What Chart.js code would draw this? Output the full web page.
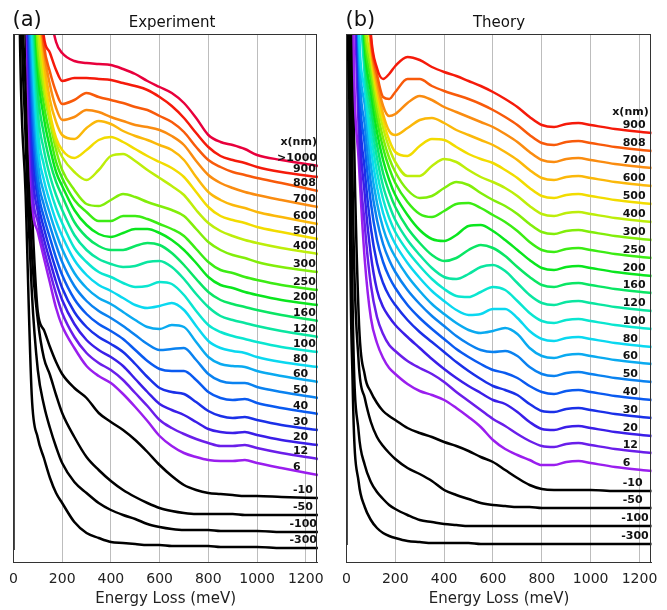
<!DOCTYPE html>
<html>
<head>
<meta charset="utf-8">
<script src="https://cdn.jsdelivr.net/npm/chart.js@4.4.1/dist/chart.umd.min.js"></script>
<style>
  body { margin: 0; background: #fff; }
  #wrap { position: relative; width: 667px; height: 610px; }
  canvas { position: absolute; top: 0; }
</style>
</head>
<body>
<div id="wrap">
  <canvas id="expChart" width="333" height="610" style="left:0"></canvas>
  <canvas id="thyChart" width="334" height="610" style="left:333px"></canvas>
</div>
<script>
// energy loss grid (meV), shared by every spectrum
const energy = [0, 2, 10, 25, 50, 75, 100, 125, 150, 175, 200, 250, 300, 350, 400, 450, 500, 550, 600, 650, 700, 750, 800, 850, 900, 950, 1000, 1100, 1250];
const xTicks = [0, 200, 400, 600, 800, 1000, 1200];

// (a) experiment, stacked intensity (arb. units)
const expGT1000 = [1500,1500,1400,1200,900,800,700,620,552,520,509,501,499,498,497,493,488,481,475,469,459,444,427,420,417,413,407,402,396];
const exp900 = [1500,1500,1400,1200,880,740,600,525,509,492,481,484,484,483,482,479,476,472,465,456,444,429,415,406,402,399,395,390,385];
const exp808 = [1500,1500,1400,1200,860,720,590,517,490,470,458,462,469,465,462,459,455,452,446,440,430,415,402,395,390,387,384,379,371];
const exp700 = [1500,1500,1400,1200,850,700,580,512,477,454,442,445,452,450,445,441,437,435,432,426,417,401,387,379,374,370,367,362,355];
const exp600 = [1500,1500,1400,1200,840,690,570,502,462,440,427,423,434,441,438,431,426,422,417,412,402,385,370,362,357,354,350,345,338];
const exp500 = [1500,1500,1400,1200,830,680,555,490,449,424,412,404,412,422,425,420,413,406,400,394,385,370,355,346,342,339,335,330,323];
const exp400 = [1500,1500,1400,1200,820,660,535,477,442,419,405,390,382,392,406,408,401,392,384,376,367,352,339,331,326,322,319,314,308];
const exp300 = [1500,1500,1400,1200,810,650,517,470,440,412,392,372,358,356,362,368,365,360,356,352,346,333,320,312,307,304,300,295,290];
const exp250 = [1500,1500,1400,1200,800,640,507,457,427,400,384,362,350,341,341,346,346,343,338,333,326,313,300,292,289,285,282,277,272];
const exp200 = [1500,1500,1400,1200,790,620,492,444,414,390,376,352,337,328,325,329,333,333,329,322,312,299,285,277,274,270,267,262,257];
const exp160 = [1500,1500,1400,1200,780,600,472,428,400,380,366,340,325,316,312,312,316,319,317,309,297,283,270,262,258,255,252,247,241];
const exp120 = [1500,1500,1400,1200,760,580,452,412,386,367,352,327,312,303,298,295,296,300,301,295,283,268,255,246,242,239,236,231,225];
const exp100 = [1500,1500,1400,1200,740,560,434,397,373,354,339,314,300,290,285,279,275,276,280,278,267,251,237,230,226,223,220,215,210];
const exp80 = [1500,1500,1400,1200,720,532,417,382,360,341,326,302,287,277,271,264,257,254,256,259,252,236,221,214,211,209,205,200,195];
const exp60 = [1500,1500,1400,1200,710,507,402,369,348,329,313,289,274,264,258,250,242,235,233,237,235,220,205,198,196,195,191,186,180];
const exp50 = [1500,1500,1400,1200,700,482,387,357,336,317,300,276,261,251,244,236,227,218,212,213,214,202,188,181,179,179,175,170,164];
const exp40 = [1500,1500,1400,1200,680,457,374,345,324,304,287,263,248,238,231,223,212,201,193,191,191,182,170,164,162,163,159,154,148];
const exp30 = [1500,1500,1400,1200,660,432,362,334,312,292,274,250,235,225,218,210,198,185,174,170,168,160,151,146,144,145,142,137,132];
const exp20 = [1500,1500,1400,1200,640,407,350,323,301,280,262,238,222,212,205,196,183,170,158,152,147,140,133,130,129,130,127,122,117];
const exp12 = [1500,1500,1400,1200,620,384,340,313,290,268,249,225,209,199,192,182,169,156,142,134,128,123,119,116,116,117,114,109,103];
const exp6 = [1500,1500,1400,1200,600,367,330,304,279,254,236,214,196,186,179,168,155,141,126,116,109,105,102,101,101,102,99,94,87];
const expM10 = [1500,1500,1400,750,522,357,250,232,215,200,188,174,164,149,140,132,122,110,97,86,77,72,69,68,67,66,66,65,64];
const expM50 = [1500,1500,1400,720,472,312,242,204,187,167,149,125,105,92,81,72,65,59,54,51,49,48,48,48,48,47,47,47,47];
const expM100 = [1500,1500,1400,700,422,272,192,157,134,115,99,80,69,59,52,47,43,38,35,33,32,32,32,31,31,31,31,30,30];
const expM300 = [12,1500,1000,552,367,167,124,104,84,69,59,40,29,24,20,19,18,17,17,16,16,16,16,15,15,15,15,14,14];

// (b) theory
const thy900 = [1500,1500,1400,1200,800,650,528,494,483,488,496,505,502,495,490,486,481,476,470,463,455,445,437,435,438,439,437,433,429];
const thy808 = [1500,1500,1400,1200,780,640,524,488,465,463,470,483,483,476,471,467,463,458,452,445,437,427,419,417,420,421,419,415,411];
const thy700 = [1500,1500,1400,1200,760,630,520,482,456,446,448,459,466,462,455,450,445,440,435,428,420,410,402,400,403,404,402,398,394];
const thy600 = [1500,1500,1400,1200,740,620,516,476,448,431,427,434,442,444,439,432,427,422,417,410,402,392,384,382,385,386,384,380,376];
const thy500 = [1500,1500,1400,1200,720,590,510,470,442,422,410,406,416,423,422,415,408,403,399,392,384,374,366,364,367,368,366,362,358];
const thy400 = [1500,1500,1400,1200,700,547,502,462,434,414,400,386,386,396,403,400,392,385,380,374,366,356,348,346,349,350,348,344,340];
const thy300 = [1500,1500,1400,1200,690,537,492,452,424,404,390,372,364,366,374,380,377,369,362,356,348,338,330,328,331,332,330,326,322];
const thy250 = [1500,1500,1400,1200,680,527,482,442,414,394,379,360,348,345,351,358,359,354,347,340,331,320,312,310,313,314,312,308,304];
const thy200 = [1500,1500,1400,1200,670,517,470,430,402,382,367,347,332,323,321,327,336,337,331,322,312,302,294,292,295,296,294,290,286];
const thy160 = [1500,1500,1400,1200,660,507,457,417,389,370,355,334,319,307,301,304,312,317,314,306,295,285,277,275,278,279,277,273,269];
const thy120 = [1500,1500,1400,1200,650,496,444,404,376,357,342,322,307,294,285,283,288,295,297,291,279,267,259,257,260,261,259,255,251];
const thy100 = [1500,1500,1400,1200,640,484,430,390,363,344,330,311,296,283,273,266,265,270,275,272,261,249,241,239,242,243,241,237,233];
const thy80 = [1500,1500,1400,1050,547,472,414,375,349,331,318,299,284,271,261,252,247,248,253,253,244,231,223,221,224,225,223,219,215];
const thy60 = [1500,1500,1400,1000,532,457,397,359,334,317,305,286,271,258,248,239,232,229,231,234,228,214,206,204,207,208,206,202,198];
const thy50 = [1500,1500,1400,950,517,437,379,342,318,302,290,272,258,246,236,226,218,212,210,211,206,195,188,186,189,190,188,184,180];
const thy40 = [1500,1500,1400,900,502,417,359,322,300,285,274,257,244,233,223,213,205,198,192,189,184,176,170,168,171,172,170,166,162];
const thy30 = [1500,1500,1400,850,482,392,334,299,279,266,257,242,230,220,210,200,191,183,176,172,167,158,151,150,153,154,152,148,144];
const thy20 = [1500,1500,1400,800,462,367,307,272,255,245,237,225,214,203,193,184,176,169,162,158,150,140,133,132,135,136,134,130,126];
const thy12 = [1500,1500,1400,750,432,337,277,245,228,217,211,201,194,188,180,170,161,152,143,136,128,121,116,115,118,119,117,113,109];
const thy6 = [1500,1500,1400,600,402,302,244,219,204,194,188,178,171,167,162,154,145,135,122,113,107,102,97,97,100,101,99,95,91];
const thyM10 = [1500,1500,900,520,247,187,170,159,151,146,142,134,129,125,120,116,111,105,100,92,84,77,73,72,72,72,72,71,71];
const thyM50 = [1500,1500,800,382,200,164,140,125,116,109,103,94,88,81,72,67,63,59,57,56,55,55,54,54,54,54,54,54,54];
const thyM100 = [1500,1500,700,262,130,97,80,70,63,57,53,47,42,40,38,37,36,36,36,36,36,36,36,36,36,36,36,36,36];
const thyM300 = [17,1500,560,182,80,55,42,34,29,26,24,21,20,19,19,19,19,18,18,18,18,18,18,18,18,18,18,18,18];

const expNames = ['>1000','900','808','700','600','500','400','300','250','200','160','120','100','80','60','50','40','30','20','12','6','-10','-50','-100','-300'];
const expSeries = [expGT1000,exp900,exp808,exp700,exp600,exp500,exp400,exp300,exp250,exp200,exp160,exp120,exp100,exp80,exp60,exp50,exp40,exp30,exp20,exp12,exp6,expM10,expM50,expM100,expM300];
const thyNames = ['900','808','700','600','500','400','300','250','200','160','120','100','80','60','50','40','30','20','12','6','-10','-50','-100','-300'];
const thySeries = [thy900,thy808,thy700,thy600,thy500,thy400,thy300,thy250,thy200,thy160,thy120,thy100,thy80,thy60,thy50,thy40,thy30,thy20,thy12,thy6,thyM10,thyM50,thyM100,thyM300];

// colour per distance x(nm); negative distances are black
const lineColors = {
  '>1000': '#e8003c', '900': '#f51a0a', '808': '#f85a0a', '700': '#fa8c10', '600': '#fbb80a',
  '500': '#f2dc00', '400': '#bdee0a', '300': '#82ee0a', '250': '#3cec14', '200': '#0ae61e',
  '160': '#0ae664', '120': '#0ae6a0', '100': '#0ae6d0', '80': '#0ad8f0', '60': '#0aaaf0',
  '50': '#0a82f0', '40': '#0a5af0', '30': '#1a30e8', '20': '#3a1ee8', '12': '#6a1eea', '6': '#9a1eee'
};

Chart.defaults.font.family = '"DejaVu Sans", sans-serif';
Chart.defaults.color = '#222';

// frame, panel tag, title and the x(nm) labels at the right end of each curve
const panelDeco = {
  id: 'panelDeco',
  afterDraw(chart, args, opts) {
    const ctx = chart.ctx;
    const a = chart.chartArea;
    const y = chart.scales.y;
    ctx.save();
    ctx.strokeStyle = '#333';
    ctx.lineWidth = 1;
    ctx.strokeRect(Math.round(a.left) + 0.5, Math.round(a.top) + 0.5, Math.round(a.width) - 1, Math.round(a.height));

    ctx.fillStyle = '#111';
    ctx.textBaseline = 'alphabetic';
    ctx.textAlign = 'left';
    ctx.font = '21px "DejaVu Sans"';
    ctx.fillText(opts.tag, a.left - 1, 26);
    ctx.textAlign = 'center';
    ctx.font = '15px "DejaVu Sans"';
    ctx.fillText(opts.title, opts.titleX, 27);

    ctx.font = 'bold 11px "DejaVu Sans"';
    ctx.textBaseline = 'middle';
    ctx.textAlign = 'left';
    const place = (txt, py) => {
      const w = ctx.measureText(txt).width;
      const x = Math.min(a.right - opts.inset, a.right - opts.pad - w);
      ctx.fillText(txt, x, py);
    };
    let firstY = null;
    chart.data.datasets.forEach(ds => {
      const last = ds.data[ds.data.length - 1].y;
      const py = y.getPixelForValue(last) - 7.5;
      if (firstY === null) firstY = py;
      place(ds.label, py);
    });
    place('x(nm)', firstY - opts.headGap);
    ctx.restore();
  }
};

function makeChart(id, names, series, deco, padL, padR) {
  const datasets = names.map((n, i) => ({
    label: n,
    data: energy.map((e, k) => ({ x: e, y: series[i][k] })),
    borderColor: lineColors[n] || '#000',
    borderWidth: 2.5,
    pointRadius: 0,
    cubicInterpolationMode: 'monotone',
    fill: false
  }));
  return new Chart(document.getElementById(id).getContext('2d'), {
    type: 'line',
    data: { datasets: datasets },
    options: {
      responsive: false,
      animation: false,
      events: [],
      layout: { padding: { left: padL, right: padR, top: 34, bottom: 0 } },
      plugins: { legend: { display: false }, tooltip: { enabled: false }, panelDeco: deco },
      scales: {
        x: {
          type: 'linear',
          min: 0,
          max: 1250,
          afterBuildTicks: s => { s.ticks = xTicks.map(v => ({ value: v })); },
          afterFit: s => { s.height = 48; },
          grid: { color: '#bdbdbd', lineWidth: 1, drawTicks: false },
          border: { display: true, color: '#333' },
          ticks: { font: { size: 14 }, padding: 9, maxRotation: 0, color: '#222', callback: v => String(v) },
          title: { display: true, text: 'Energy Loss (meV)', font: { size: 15 }, color: '#222', padding: { top: 0, bottom: 2 } }
        },
        y: { display: false, min: 0, max: 528 }
      }
    },
    plugins: [panelDeco]
  });
}

makeChart('expChart', expNames, expSeries,
  { tag: '(a)', title: 'Experiment', titleX: 172, inset: 25, pad: 1, headGap: 16 }, 13, 11);
makeChart('thyChart', thyNames, thySeries,
  { tag: '(b)', title: 'Theory', titleX: 166, inset: 29, pad: 3, headGap: 13 }, 12.7, 15.3);
</script>
</body>
</html>
